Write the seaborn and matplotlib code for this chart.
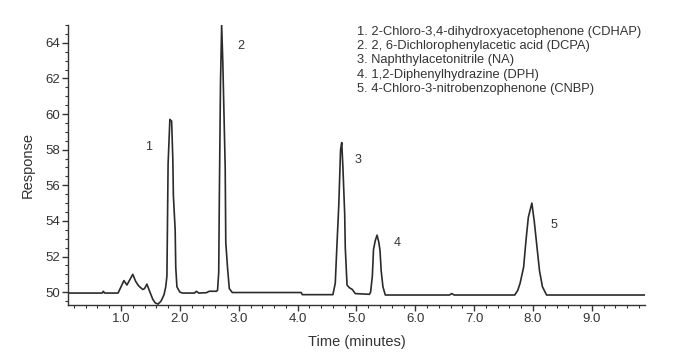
import matplotlib
matplotlib.use("Agg")
import matplotlib.pyplot as plt
from matplotlib.ticker import MultipleLocator, FormatStrFormatter
import seaborn as sns
import pandas as pd

# Chromatogram trace: time (minutes) and response
time_min = [0.10, 0.68, 0.70, 0.72, 0.95, 1.00, 1.05, 1.10, 1.15, 1.20, 1.25, 1.30,
            1.37, 1.40, 1.44, 1.48, 1.54, 1.58, 1.63, 1.68, 1.73, 1.76, 1.78, 1.80,
            1.83, 1.86, 1.88, 1.89, 1.92, 1.93, 1.95, 2.00, 2.05, 2.25, 2.28, 2.32,
            2.45, 2.50, 2.62, 2.64, 2.66, 2.67, 2.69, 2.71, 2.73, 2.77, 2.78, 2.81,
            2.84, 2.89, 4.06, 4.08, 4.60, 4.64, 4.67, 4.70, 4.73, 4.75, 4.77, 4.80,
            4.81, 4.84, 4.88, 4.93, 4.98, 5.22, 5.24, 5.27, 5.29, 5.32, 5.35, 5.38,
            5.40, 5.42, 5.45, 5.49, 6.58, 6.62, 6.66, 6.90, 7.69, 7.74, 7.78, 7.84,
            7.88, 7.92, 7.98, 8.02, 8.06, 8.11, 8.16, 8.23, 9.90]
response = [49.95, 49.95, 50.05, 49.95, 49.95, 50.30, 50.65, 50.40, 50.70, 51.00, 50.60, 50.35,
            50.15, 50.20, 50.45, 50.10, 49.60, 49.40, 49.33, 49.50, 49.85, 50.30, 50.90, 57.20,
            59.70, 59.60, 57.50, 55.40, 53.50, 51.40, 50.30, 50.00, 49.95, 49.95, 50.05, 49.95,
            49.97, 50.05, 50.05, 50.10, 51.10, 55.10, 61.70, 65.00, 62.85, 57.00, 52.80, 51.35,
            50.20, 49.98, 49.98, 49.86, 49.86, 50.50, 52.75, 54.90, 58.00, 58.40, 57.00, 54.40,
            52.50, 50.40, 50.25, 50.15, 49.92, 49.88, 50.00, 50.90, 52.40, 52.90, 53.20, 52.80,
            52.35, 51.20, 50.30, 49.84, 49.84, 49.92, 49.84, 49.84, 49.84, 50.10, 50.50, 51.40,
            52.90, 54.20, 55.00, 54.00, 52.75, 51.20, 50.30, 49.84, 49.84]

peak_ids = ["1", "2", "3", "4", "5"]
peak_label_time = [1.47, 3.03, 5.03, 5.69, 8.36]
peak_label_resp = [58.15, 63.8, 57.4, 52.75, 53.75]

legend_lines = [
    "1. 2-Chloro-3,4-dihydroxyacetophenone (CDHAP)",
    "2. 2, 6-Dichlorophenylacetic acid (DCPA)",
    "3. Naphthylacetonitrile (NA)",
    "4. 1,2-Diphenylhydrazine (DPH)",
    "5. 4-Chloro-3-nitrobenzophenone (CNBP)",
]

sns.set_theme(style="ticks")
plt.rcParams["font.family"] = ["Liberation Sans", "DejaVu Sans"]

df = pd.DataFrame({"Time": time_min, "Response": response})

fig = plt.figure(figsize=(6.9, 3.62), dpi=100)
ax = fig.add_axes([0.0986, 0.157, 0.836, 0.774])
sns.lineplot(data=df, x="Time", y="Response", ax=ax, color="#2b2b2b",
             linewidth=1.2, sort=False)

ax.set_xlim(0.1, 9.9)
ax.set_ylim(49.27, 65.0)
ax.xaxis.set_major_locator(MultipleLocator(1.0))
ax.xaxis.set_minor_locator(MultipleLocator(0.2))
ax.xaxis.set_major_formatter(FormatStrFormatter("%.1f"))
ax.yaxis.set_major_locator(MultipleLocator(2))
ax.yaxis.set_minor_locator(MultipleLocator(0.5))
ax.tick_params(axis="both", which="major", length=4, width=1, colors="#333333",
               labelsize=9.5, pad=2, labelcolor="#333333")
ax.tick_params(axis="both", which="minor", length=2, width=0.8, colors="#333333")
for s in ["top", "right"]:
    ax.spines[s].set_visible(False)
for s in ["left", "bottom"]:
    ax.spines[s].set_color("#333333")
    ax.spines[s].set_linewidth(1.0)

ax.set_xlabel("Time (minutes)", fontsize=10.5, color="#333333", labelpad=7)
ax.set_ylabel("Response", fontsize=10.5, color="#333333", labelpad=7)

for pid, tx, ty in zip(peak_ids, peak_label_time, peak_label_resp):
    ax.text(tx, ty, pid, fontsize=9, color="#333333", ha="center", va="center")

for i, line in enumerate(legend_lines):
    fig.text(357 / 690, 1 - (32 + i * 14.2) / 362, line, fontsize=9.3,
             color="#333333", ha="left", va="center")

fig.savefig("out.png", dpi=100)
